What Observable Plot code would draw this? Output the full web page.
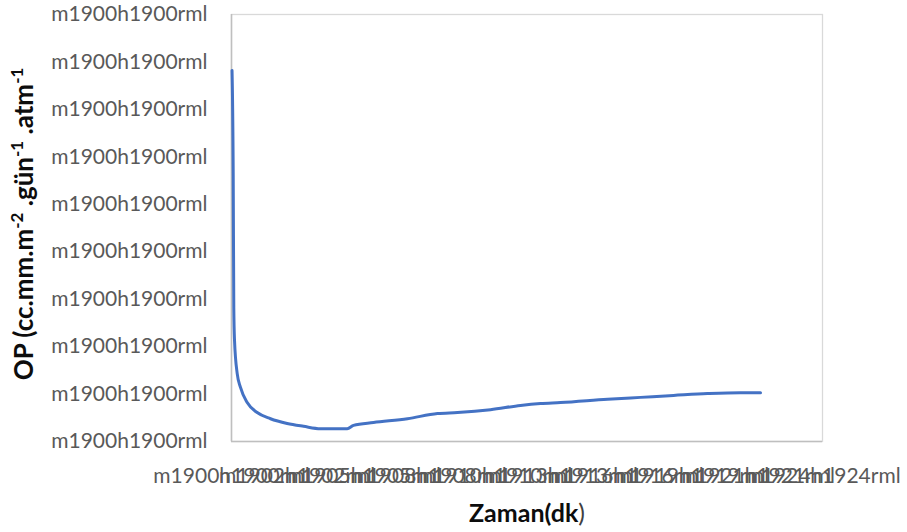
<!DOCTYPE html>
<html><head><meta charset="utf-8">
<script src="https://cdn.jsdelivr.net/npm/d3@7"></script>
<script src="https://cdn.jsdelivr.net/npm/@observablehq/plot@0.6"></script>
<style>body{margin:0;background:#fff}</style>
</head><body><div id="chart"></div>
<script>
// Data
const zamanDk = [8, 26, 35, 46, 87, 137, 239, 391, 594, 848, 1097, 1355, 1762, 1858, 2163, 2680, 3137, 3442, 3944, 4401, 4706, 5010, 5726, 6229, 6731, 7249, 7751, 8056];
const opValues = [7.82, 5.65, 2.82, 2.13, 1.43, 1.14, 0.82, 0.61, 0.48, 0.38, 0.32, 0.27, 0.27, 0.34, 0.40, 0.48, 0.59, 0.61, 0.67, 0.76, 0.80, 0.82, 0.89, 0.93, 0.97, 1.01, 1.03, 1.03];
const xTicks = [0, 1000, 2000, 3000, 4000, 5000, 6000, 7000, 8000, 9000];
const xTickLabels = ["m1900h1900rml","m1902h1902rml","m1905h1905rml","m1908h1908rml","m1910h1910rml","m1913h1913rml","m1916h1916rml","m1919h1919rml","m1921h1921rml","m1924h1924rml"];
const yTicks = [0, 1, 2, 3, 4, 5, 6, 7, 8, 9];
const yTickLabels = ["m1900h1900rml","m1900h1900rml","m1900h1900rml","m1900h1900rml","m1900h1900rml","m1900h1900rml","m1900h1900rml","m1900h1900rml","m1900h1900rml","m1900h1900rml"];

const data = zamanDk.map((t, i) => ({t, op: opValues[i]}));

const chart = Plot.plot({
  width: 907, height: 532,
  marginLeft: 231, marginRight: 85, marginTop: 14, marginBottom: 91,
  style: {fontFamily: "Lato", fontSize: "21px", color: "#595959", background: "#fff", overflow: "visible"},
  x: {domain: [0, 9000], ticks: xTicks, tickFormat: d => xTickLabels[xTicks.indexOf(d)], tickSize: 0, tickPadding: 27, label: null},
  y: {domain: [0, 9], ticks: yTicks, tickFormat: d => yTickLabels[yTicks.indexOf(d)], tickSize: 0, tickPadding: 24, label: null},
  marks: [
    Plot.frame({stroke: "#d9d9d9", strokeWidth: 1.3}),
    Plot.ruleX([0], {stroke: "#bfbfbf", strokeWidth: 1.5}),
    Plot.ruleY([0], {stroke: "#bfbfbf", strokeWidth: 1.5}),
    Plot.line(data, {x: "t", y: "op", stroke: "#4472C4", strokeWidth: 3, curve: "monotone-x"})
  ]
});

const svg = d3.select(chart);
const yt = svg.append("text")
  .attr("transform", "translate(33,224) rotate(-90)")
  .attr("text-anchor", "middle")
  .attr("font-family", "Lato").attr("font-weight", "bold").attr("font-size", 26).attr("fill", "#0d0d0d");
const parts = [["OP (cc.mm.m", false], ["-2", true], [" .gün", false], ["-1", true], [" .atm", false], ["-1", true]];
parts.forEach(([s, sup]) => {
  const ts = yt.append("tspan").text(s);
  if (sup) ts.attr("baseline-shift", "super").attr("font-size", 17);
});
const xt = svg.append("text")
  .attr("x", 527).attr("y", 522)
  .attr("text-anchor", "middle")
  .attr("font-family", "Lato").attr("font-size", 25).attr("fill", "#0d0d0d");
xt.append("tspan").attr("font-weight", "bold").text("Zaman(dk");
xt.append("tspan").attr("fill", "#404040").text(")");

document.getElementById("chart").appendChild(chart);
</script>
</body></html>
